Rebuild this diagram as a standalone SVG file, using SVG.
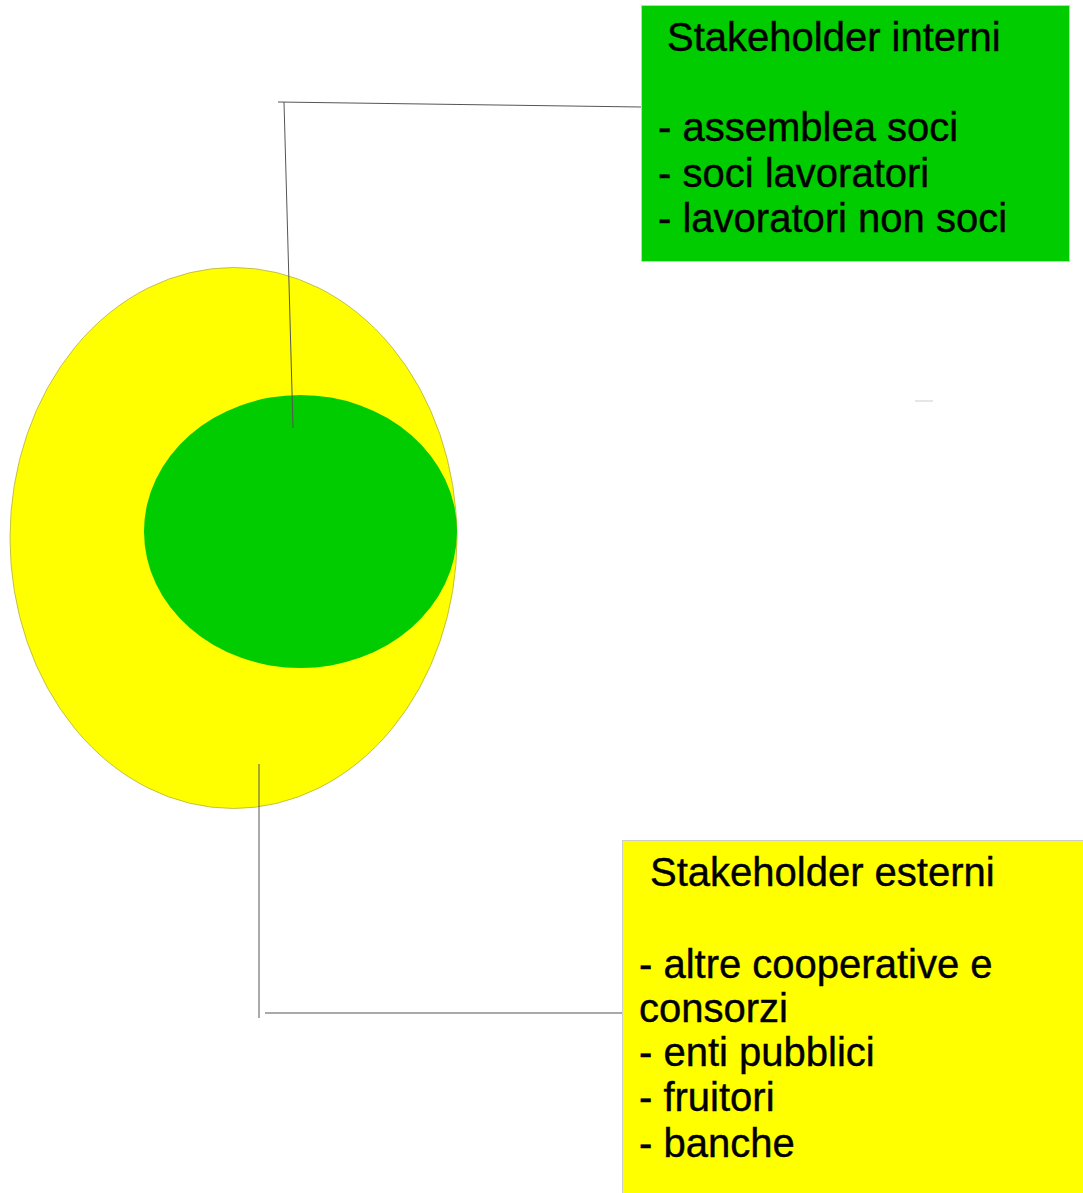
<svg xmlns="http://www.w3.org/2000/svg" width="1083" height="1193" viewBox="0 0 1083 1193">
<style>
.lbl{font-family:"Liberation Sans",Arial,sans-serif;font-size:40px;fill:#000;stroke:#000;stroke-width:0.4}
.conn{fill:none;stroke:#555;stroke-width:1}
</style>
<rect width="1083" height="1193" fill="#fff"/>
<g id="outer-ellipse">
<ellipse cx="233.5" cy="538" rx="223.5" ry="270.5" fill="#ffff00" stroke="#b5b040" stroke-width="0.8"/>
</g>
<g id="inner-ellipse">
<ellipse cx="300.5" cy="531.5" rx="156.5" ry="136.5" fill="#00cc00"/>
</g>
<g id="connectors">
<polyline class="conn" points="278,102 641,107"/>
<polyline class="conn" points="284,102 293,428"/>
<polyline class="conn" stroke="#888" points="259,764 259,1018"/>
<polyline class="conn" stroke="#888" points="265,1013 623,1013"/>
<line x1="915" y1="401" x2="933" y2="401" stroke="#ccc" stroke-width="1"/>
</g>
<g id="box-interni">
<rect x="641.5" y="5.5" width="428" height="256" fill="#00cc00" stroke="#ccc" stroke-width="1"/>
<text class="lbl" x="667" y="51">Stakeholder interni</text>
<text class="lbl" x="658" y="141">- assemblea soci</text>
<text class="lbl" x="658" y="187">- soci lavoratori</text>
<text class="lbl" x="658" y="232">- lavoratori non soci</text>
</g>
<g id="box-esterni">
<rect x="622.5" y="840.5" width="462" height="354" fill="#ffff00" stroke="#ccc" stroke-width="1"/>
<text class="lbl" x="650" y="886">Stakeholder esterni</text>
<text class="lbl" x="639" y="978">- altre cooperative e</text>
<text class="lbl" x="639" y="1022">consorzi</text>
<text class="lbl" x="639" y="1066">- enti pubblici</text>
<text class="lbl" x="639" y="1111">- fruitori</text>
<text class="lbl" x="639" y="1157">- banche</text>
</g>
</svg>
